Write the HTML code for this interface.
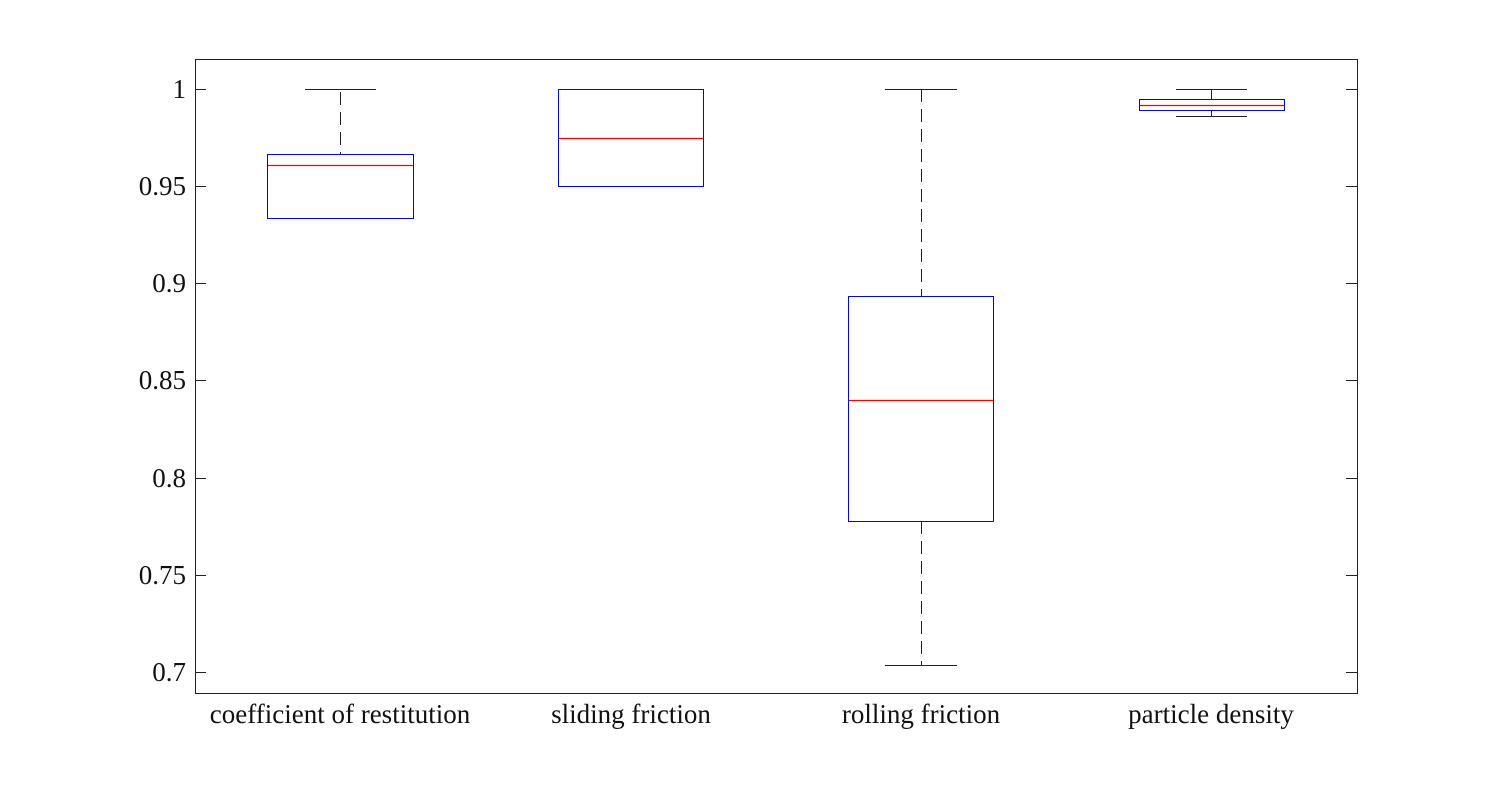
<!DOCTYPE html>
<html><head><meta charset="utf-8"><style>html,body{margin:0;padding:0;background:#fff}svg{display:block}</style></head>
<body>
<svg width="1499" height="800" xmlns="http://www.w3.org/2000/svg" font-family="Liberation Serif, serif" font-size="27">
<rect x="195.5" y="59.5" width="1162" height="634" fill="none" stroke="#222" stroke-width="1"/>
<g stroke="#222" stroke-width="1">
<line x1="195" y1="89.5" x2="206" y2="89.5"/><line x1="1346" y1="89.5" x2="1357" y2="89.5"/>
<line x1="195" y1="186.5" x2="206" y2="186.5"/><line x1="1346" y1="186.5" x2="1357" y2="186.5"/>
<line x1="195" y1="283.5" x2="206" y2="283.5"/><line x1="1346" y1="283.5" x2="1357" y2="283.5"/>
<line x1="195" y1="380.5" x2="206" y2="380.5"/><line x1="1346" y1="380.5" x2="1357" y2="380.5"/>
<line x1="195" y1="478.5" x2="206" y2="478.5"/><line x1="1346" y1="478.5" x2="1357" y2="478.5"/>
<line x1="195" y1="575.5" x2="206" y2="575.5"/><line x1="1346" y1="575.5" x2="1357" y2="575.5"/>
<line x1="195" y1="672.5" x2="206" y2="672.5"/><line x1="1346" y1="672.5" x2="1357" y2="672.5"/>
</g>
<g text-anchor="end" fill="#111">
<text x="186" y="98">1</text><text x="186" y="195">0.95</text><text x="186" y="292">0.9</text>
<text x="186" y="389">0.85</text><text x="186" y="487">0.8</text><text x="186" y="584">0.75</text><text x="186" y="681">0.7</text>
</g>
<g text-anchor="middle" fill="#111">
<text x="340" y="723">coefficient of restitution</text><text x="631" y="723">sliding friction</text>
<text x="921" y="723">rolling friction</text><text x="1211" y="723">particle density</text>
</g>
<g stroke="#222" stroke-width="1" fill="none">
<line x1="305" y1="89.5" x2="376" y2="89.5"/><line x1="340.5" y1="92" x2="340.5" y2="154" stroke-dasharray="13,7"/>
<line x1="885" y1="89.5" x2="957" y2="89.5"/><line x1="921.5" y1="89" x2="921.5" y2="296" stroke-dasharray="13,7"/>
<line x1="921.5" y1="521" x2="921.5" y2="665" stroke-dasharray="13,7"/><line x1="885" y1="665.5" x2="957" y2="665.5"/>
<line x1="1176" y1="89.5" x2="1247" y2="89.5"/><line x1="1211.5" y1="89" x2="1211.5" y2="99"/>
<line x1="1211.5" y1="110" x2="1211.5" y2="116"/><line x1="1176" y1="116.5" x2="1247" y2="116.5"/>
</g>
<g stroke="#00f" stroke-width="1" fill="none">
<rect x="267.5" y="154.5" width="146" height="64"/>
<rect x="558.5" y="89.5" width="145" height="97"/>
<rect x="848.5" y="296.5" width="145" height="225"/>
<rect x="1139.5" y="99.5" width="145" height="11"/>
</g>
<g stroke="#f00" stroke-width="1.2">
<line x1="268" y1="165.5" x2="413" y2="165.5"/>
<line x1="559" y1="138.5" x2="703" y2="138.5"/>
<line x1="849" y1="400.5" x2="993" y2="400.5"/>
<line x1="1140" y1="105.5" x2="1284" y2="105.5"/>
</g>
</svg>
</body></html>
